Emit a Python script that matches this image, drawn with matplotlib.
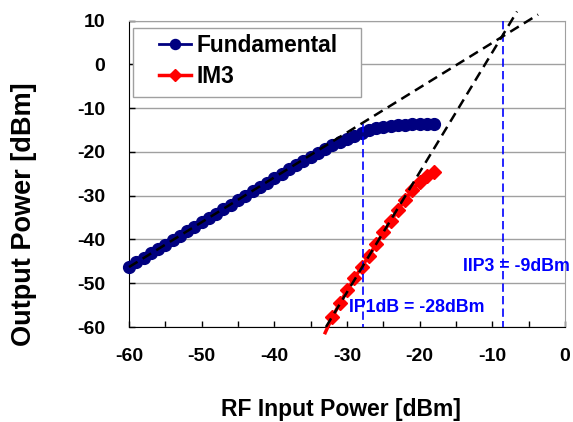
import matplotlib
matplotlib.use('Agg')
import matplotlib.pyplot as plt
from matplotlib.patches import Rectangle
from matplotlib.ticker import MultipleLocator, FuncFormatter

plt.rcParams['font.family'] = ['Liberation Sans', 'DejaVu Sans']
plt.rcParams['font.weight'] = 'bold'
plt.rcParams['axes.unicode_minus'] = False

# input power sweep [dBm]
fund_in = list(range(-60, -17))
fund_out = [-46.2, -45.2, -44.2, -43.2, -42.2, -41.2, -40.2, -39.2, -38.1, -37.1,
            -36.1, -35.1, -34.1, -33.1, -32.1, -31.0, -30.0, -29.0, -28.0, -27.0,
            -26.0, -25.0, -24.0, -23.0, -22.0, -21.1, -20.2, -19.3, -18.5, -17.7,
            -17.0, -16.3, -15.6, -15.0, -14.6, -14.3, -14.0, -13.9, -13.8, -13.7,
            -13.7, -13.6, -13.6]

im3_in = list(range(-33, -17))
im3_out = [-61.3, -57.7, -54.6, -51.6, -48.9, -46.3, -43.8, -41.1, -38.4, -35.8,
           -33.3, -30.9, -28.6, -26.8, -25.6, -24.5]

# extrapolated slopes (1:1 and 3:1)
fund_fit_x = [-60, -3.7]
fund_fit_y = [-46.3, 11.4]
im3_fit_x = [-32.9, -6.6]
im3_fit_y = [-60.0, 12.1]

ip1db_x = -27.8
ip1db_top = -13.5
iip3_x = -8.6

fig = plt.figure(figsize=(5.73, 4.22), dpi=100)
ax = fig.add_axes([129/573, 1-327/422, 436/573, 306.3/422])

l1, = ax.plot(fund_in, fund_out, color='#000080', lw=2, marker='o', ms=8.5,
              mec='#000080', mfc='#000080', clip_on=False, zorder=3, label='Fundamental')
l2, = ax.plot(im3_in, im3_out, color='#ff0000', lw=2.5, marker='D', ms=7.5,
              mec='#ff0000', mfc='#ff0000', clip_on=False, zorder=3, label='IM3')

ax.plot(fund_fit_x, fund_fit_y, color='black', lw=1.8, dashes=(4, 2.4), clip_on=False, zorder=5)
ax.plot(im3_fit_x, im3_fit_y, color='black', lw=1.8, dashes=(4, 2.4), clip_on=False, zorder=5)

ax.plot([ip1db_x, ip1db_x], [ip1db_top, -60], color='#0000ff', lw=1.2, dashes=(5, 2.5), zorder=4)
ax.plot([iip3_x, iip3_x], [10, -60], color='#0000ff', lw=1.2, dashes=(5, 2.5), zorder=4)

ax.text(-29.7, -56.5, 'IP1dB = -28dBm', color='#0000ff', fontsize=12.8,
        fontweight='bold', ha='left', va='baseline', zorder=6)
ax.text(-14.1, -47.2, 'IIP3 = -9dBm', color='#0000ff', fontsize=12.8,
        fontweight='bold', ha='left', va='baseline', zorder=6, clip_on=False)

ax.set_xlim(-60, 0)
ax.set_ylim(-60, 10)
ax.xaxis.set_major_locator(MultipleLocator(5))
ax.xaxis.set_major_formatter(FuncFormatter(lambda v, p: '%d' % v if round(v) % 10 == 0 else ''))
ax.yaxis.set_major_locator(MultipleLocator(10))
ax.tick_params(axis='x', direction='in', length=4.5, width=1, pad=15, labelsize=14)
ax.tick_params(axis='y', direction='in', length=4.5, width=1, pad=17, labelsize=14)
for lab in ax.get_xticklabels() + ax.get_yticklabels():
    lab.set_fontweight('bold')

ax.yaxis.grid(True, color='#a0a0a0', lw=1)
ax.set_axisbelow(True)
ax.spines['top'].set_color('#a0a0a0')
ax.spines['right'].set_color('#a0a0a0')
ax.spines['left'].set_color('black')
ax.spines['bottom'].set_color('black')

ax.set_xlabel('RF Input Power [dBm]', fontsize=16.5, fontweight='bold')
ax.xaxis.set_label_coords(0.486, -0.232)
ax.set_ylabel('Output Power [dBm]', fontsize=19.5, fontweight='bold')
ax.yaxis.set_label_coords(-0.212, 0.369)

ax.add_patch(Rectangle((0.0099, 0.752), 0.5216, 0.223, transform=ax.transAxes,
                       facecolor='white', edgecolor='#a0a0a0', lw=1, zorder=7))
leg = ax.legend(loc='upper left', bbox_to_anchor=(0.0688, 0.958), frameon=False,
                borderpad=0, borderaxespad=0, handlelength=1.4, handletextpad=0.25,
                labelspacing=0.35, prop={'size': 16.4, 'weight': 'bold'},
                markerscale=0.85)
leg.set_zorder(8)

# first IM3 point lies below the axis: line only, no marker
l2.set_markevery(slice(1, None))

fig.savefig('out.png', dpi=100)
